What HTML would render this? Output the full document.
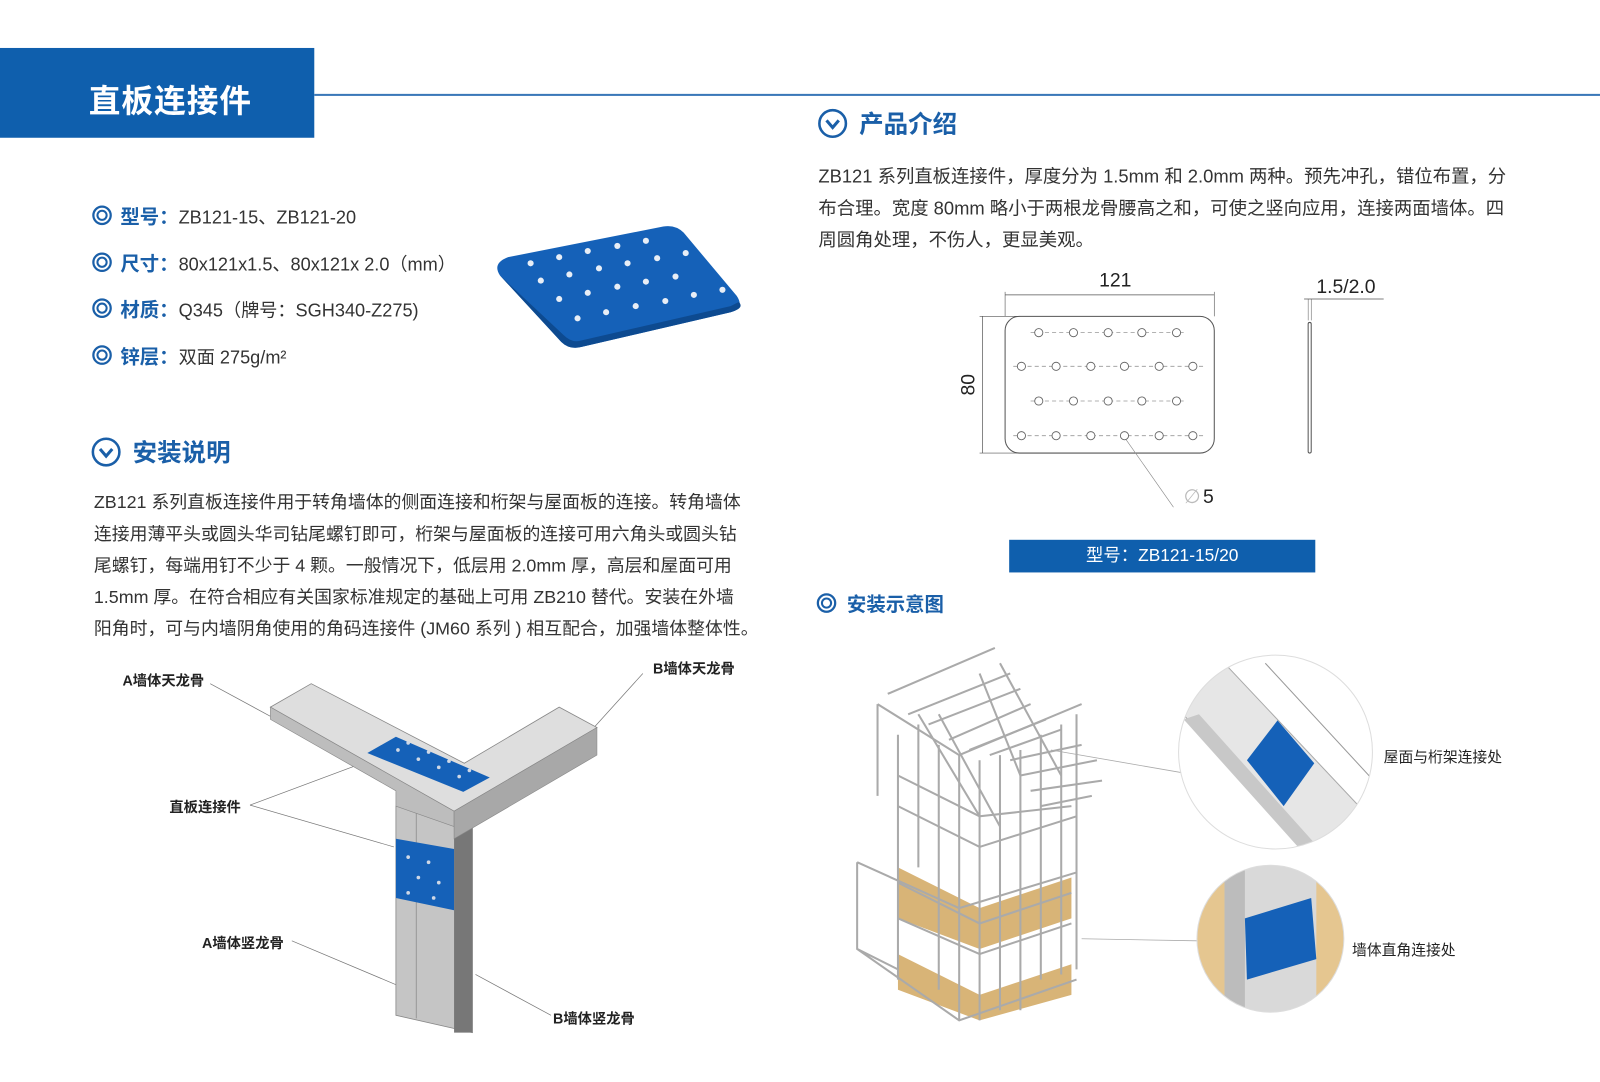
<!DOCTYPE html>
<html><head><meta charset="utf-8"><style>
html,body{margin:0;padding:0;background:#fff;}
body{width:1600px;height:1082px;position:relative;overflow:hidden;font-family:"Liberation Sans","Noto Sans CJK SC",sans-serif;color:#333;}
#w{position:absolute;left:0;top:0;width:1568px;height:1060px;transform:scale(1.0204);transform-origin:0 0;}
.a{position:absolute;white-space:nowrap;}
.p{line-height:31px;color:#333;}
.lab{color:#1a5fa8;font-weight:bold;font-size:19px;}
.val{font-size:17.8px;color:#333;}
.h{color:#1a5fa8;font-weight:bold;font-size:24px;}
.sm{font-size:14px;color:#222;font-weight:bold;}
</style></head><body><div id="w">
<div class="a" style="left:0;top:47px;width:308px;height:88px;background:#0f5fad;"></div>
<div class="a" style="left:87px;top:74px;color:#fff;font-size:31px;font-weight:bold;letter-spacing:1px;">直板连接件</div>
<div class="a" style="left:308px;top:92px;width:1260px;height:1.5px;background:#3a78b8;"></div>

<svg class="a" style="left:0;top:0" width="1568" height="1060">
 <defs>
  <g id="chk"><circle r="13" fill="none" stroke="#1a5fa8" stroke-width="2.5"/><path d="M-6,-3 L0,4 L6,-3" fill="none" stroke="#1a5fa8" stroke-width="3"/></g>
  <g id="ring"><circle r="8.5" fill="none" stroke="#1a5fa8" stroke-width="2.2"/><circle r="4.5" fill="none" stroke="#1a5fa8" stroke-width="2"/></g>
 </defs>
 <use href="#chk" x="816" y="121"/>
 <use href="#chk" x="104" y="443"/>
 <use href="#ring" x="100" y="211"/>
 <use href="#ring" x="100" y="257"/>
 <use href="#ring" x="100" y="302"/>
 <use href="#ring" x="100" y="348"/>
 <use href="#ring" x="810" y="591"/>
 <path d="M498,252 L650,222 Q662,220 670,228 L722,290 Q730,302 716,306 L570,340 Q558,343 550,335 L490,270 Q482,258 498,252Z" fill="#1561b8"/>
 <path d="M490,270 L550,335 Q558,343 570,340 L716,306 Q730,302 724,296 L716,300 L568,334 Q560,336 552,328 Z" fill="#0d4a90"/>
 <g fill="#e8eef6">
  <circle cx="520" cy="258" r="3"/><circle cx="548" cy="252" r="3"/><circle cx="576" cy="246" r="3"/><circle cx="605" cy="241" r="3"/><circle cx="633" cy="236" r="3"/>
  <circle cx="530" cy="275" r="3"/><circle cx="558" cy="269" r="3"/><circle cx="587" cy="263" r="3"/><circle cx="615" cy="258" r="3"/><circle cx="644" cy="253" r="3"/><circle cx="672" cy="248" r="3"/>
  <circle cx="548" cy="293" r="3"/><circle cx="576" cy="287" r="3"/><circle cx="605" cy="281" r="3"/><circle cx="633" cy="276" r="3"/><circle cx="662" cy="271" r="3"/>
  <circle cx="566" cy="312" r="3"/><circle cx="594" cy="306" r="3"/><circle cx="623" cy="300" r="3"/><circle cx="652" cy="295" r="3"/><circle cx="680" cy="289" r="3"/><circle cx="708" cy="284" r="3"/>
 </g>
 <g stroke="#555" fill="none" stroke-width="1">
  <rect x="985" y="310" width="205" height="134" rx="14"/>
  <line x1="985" y1="286" x2="985" y2="310" stroke-width="0.6"/><line x1="1190" y1="286" x2="1190" y2="310" stroke-width="0.6"/>
  <line x1="985" y1="289" x2="1190" y2="289" stroke-width="0.7"/>
  <line x1="960" y1="310" x2="1000" y2="310" stroke-width="0.6"/><line x1="960" y1="444" x2="1000" y2="444" stroke-width="0.6"/>
  <line x1="963" y1="310" x2="963" y2="444" stroke-width="0.7"/>
  <rect x="1282" y="316" width="3" height="128" rx="1.5"/>
  <line x1="1278" y1="293" x2="1356" y2="293" stroke-width="0.7"/>
  <line x1="1282" y1="293" x2="1282" y2="314" stroke-width="0.5"/><line x1="1285" y1="293" x2="1285" y2="314" stroke-width="0.5"/>
  <line x1="1103" y1="430" x2="1150" y2="497" stroke-width="0.6" stroke="#888"/>
 </g>
 <g stroke="#999" stroke-dasharray="4,3" stroke-width="0.8">
  <line x1="1010" y1="326" x2="1160" y2="326"/><line x1="993" y1="359" x2="1180" y2="359"/><line x1="1010" y1="393" x2="1160" y2="393"/><line x1="993" y1="427" x2="1180" y2="427"/>
 </g>
 <g fill="#fff" stroke="#666" stroke-width="0.9">
  <circle cx="1018" cy="326" r="4"/><circle cx="1052" cy="326" r="4"/><circle cx="1086" cy="326" r="4"/><circle cx="1119" cy="326" r="4"/><circle cx="1153" cy="326" r="4"/>
  <circle cx="1001" cy="359" r="4"/><circle cx="1035" cy="359" r="4"/><circle cx="1069" cy="359" r="4"/><circle cx="1102" cy="359" r="4"/><circle cx="1136" cy="359" r="4"/><circle cx="1169" cy="359" r="4"/>
  <circle cx="1018" cy="393" r="4"/><circle cx="1052" cy="393" r="4"/><circle cx="1086" cy="393" r="4"/><circle cx="1119" cy="393" r="4"/><circle cx="1153" cy="393" r="4"/>
  <circle cx="1001" cy="427" r="4"/><circle cx="1035" cy="427" r="4"/><circle cx="1069" cy="427" r="4"/><circle cx="1102" cy="427" r="4"/><circle cx="1136" cy="427" r="4"/><circle cx="1169" cy="427" r="4"/>
 </g>
 <text x="1093" y="281" font-size="19" text-anchor="middle" fill="#222" font-family="Liberation Sans">121</text>
 <text x="1290" y="287" font-size="19" fill="#222" font-family="Liberation Sans">1.5/2.0</text>
 <text x="955" y="377" font-size="19" fill="#222" font-family="Liberation Sans" transform="rotate(-90 955 377)" text-anchor="middle">80</text>
 <text x="1160" y="493" font-size="19" fill="#bbb" font-family="Liberation Sans">∅</text>
 <text x="1179" y="493" font-size="19" fill="#222" font-family="Liberation Sans">5</text>

 <g stroke="#777" stroke-width="0.7" fill="none">
  <line x1="206" y1="670" x2="265" y2="702"/><line x1="630" y1="660" x2="583" y2="712"/>
  <line x1="245" y1="789" x2="363" y2="745"/><line x1="245" y1="789" x2="386" y2="830"/>
  <line x1="286" y1="922" x2="388" y2="965"/><line x1="540" y1="995" x2="466" y2="955"/>
 </g>
 <path d="M388,790 L463,800 L463,1012 L388,995Z" fill="#c5c5c5" stroke="#888" stroke-width="0.8"/>
 <path d="M408,793 L408,998" stroke="#999"/>
 <path d="M445,810 L463,800 L463,1012 L445,1012Z" fill="#777"/>
 <path d="M265,693 L305,670 L455,748 L548,693 L585,713 L445,795 Z" fill="#dedede" stroke="#888" stroke-width="0.8"/>
 <path d="M265,693 L265,705 L388,775 L388,790 L445,810 L445,795 Z" fill="#bdbdbd" stroke="#888" stroke-width="0.6"/>
 <path d="M445,795 L585,713 L585,740 L445,822 Z" fill="#a8a8a8" stroke="#888" stroke-width="0.6"/>
 <path d="M360,738 L388,722 L480,762 L454,776Z" fill="#1561b8"/>
 <path d="M388,822 L445,832 L445,892 L388,880Z" fill="#1561b8"/>
 <g fill="#cfd8e6"><circle cx="390" cy="735" r="1.8"/><circle cx="410" cy="744" r="1.8"/><circle cx="430" cy="752" r="1.8"/><circle cx="450" cy="761" r="1.8"/><circle cx="400" cy="728" r="1.8"/><circle cx="420" cy="737" r="1.8"/><circle cx="440" cy="746" r="1.8"/><circle cx="460" cy="755" r="1.8"/><circle cx="400" cy="840" r="1.8"/><circle cx="420" cy="845" r="1.8"/><circle cx="410" cy="860" r="1.8"/><circle cx="430" cy="865" r="1.8"/><circle cx="400" cy="875" r="1.8"/><circle cx="425" cy="880" r="1.8"/></g>

 <path d="M880,850 L960,890 L1050,860 L1050,900 L960,930 L880,900Z" fill="#d8b477"/>
 <path d="M880,935 L960,975 L1050,945 L1050,975 L960,1000 L880,970Z" fill="#d8b477"/>
 <g stroke="#aaa" stroke-width="2" fill="none">
  <path d="M860,690 L940,740 L1060,690"/><path d="M860,690 L860,780 M900,710 L900,850 M940,740 L940,1000 M980,740 L980,990 M1020,720 L1020,960 M1055,700 L1055,950"/>
  <path d="M880,720 L880,960 M920,730 L920,970 M960,745 L960,1000 M1000,735 L1000,990 M1040,710 L1040,955"/>
  <path d="M840,845 L940,890 L1055,855 M840,845 L840,930 L940,1000 L1055,960 M840,930 L880,950"/>
  <path d="M880,900 L960,935 L1050,905 M880,865 L960,905 L1050,875"/>
  <path d="M870,680 L975,635 M890,700 L990,660 M910,710 L1000,675 M930,725 L1010,690 M950,735 L1025,705 M970,740 L1040,715 M990,745 L1060,730 M1000,760 L1075,745 M1010,775 L1080,765 M1020,790 L1070,780"/>
  <path d="M900,700 L960,800 L1050,790 M920,700 L980,810 M960,660 L1000,760 M980,650 L1040,760"/>
  <path d="M880,790 L960,830 L1055,800 M880,760 L960,800"/>
 </g>
 <g stroke="#aaa" stroke-width="0.8"><line x1="1030" y1="735" x2="1157" y2="757"/><line x1="1060" y1="920" x2="1173" y2="922"/></g>
 <clipPath id="c1"><circle cx="1250" cy="737" r="95"/></clipPath>
 <clipPath id="c2"><circle cx="1245" cy="920" r="72"/></clipPath>
 <g clip-path="url(#c1)">
  <rect x="1150" y="640" width="200" height="200" fill="#fff"/>
  <path d="M1150,690 L1200,650 L1360,820 L1300,850Z" fill="#e6e6e6" stroke="#aaa"/>
  <path d="M1175,700 L1305,845 L1290,850 L1160,705Z" fill="#c8c8c8"/>
  <path d="M1240,650 L1360,780" stroke="#999"/>
  <path d="M1222,745 L1252,706 L1288,748 L1258,790Z" fill="#1561b8"/>
 </g>
 <circle cx="1250" cy="737" r="95" fill="none" stroke="#ddd"/>
 <g clip-path="url(#c2)">
  <rect x="1170" y="845" width="150" height="150" fill="#e5c690"/>
  <rect x="1200" y="845" width="90" height="150" fill="#d9d9d9"/>
  <rect x="1200" y="845" width="20" height="150" fill="#bcbcbc"/>
  <path d="M1220,900 L1285,880 L1290,940 L1222,960Z" fill="#1561b8"/>
 </g>
 <circle cx="1245" cy="920" r="72" fill="none" stroke="#ddd"/>
</svg>

<div class="a" style="left:842px;top:102px;"><span class="h">产品介绍</span></div>
<div class="a p" style="left:802px;top:158px;font-size:18px;">ZB121 系列直板连接件，厚度分为 1.5mm 和 2.0mm 两种。预先冲孔，错位布置，分<br>布合理。宽度 80mm 略小于两根龙骨腰高之和，可使之竖向应用，连接两面墙体。四<br>周圆角处理，不伤人，更显美观。</div>

<div class="a" style="left:118px;top:198px;"><span class="lab">型号：</span><span class="val">ZB121-15、ZB121-20</span></div>
<div class="a" style="left:118px;top:244px;"><span class="lab">尺寸：</span><span class="val">80x121x1.5、80x121x 2.0（mm）</span></div>
<div class="a" style="left:118px;top:289px;"><span class="lab">材质：</span><span class="val">Q345（牌号：SGH340-Z275)</span></div>
<div class="a" style="left:118px;top:335px;"><span class="lab">锌层：</span><span class="val">双面 275g/m²</span></div>

<div class="a" style="left:130px;top:424px;"><span class="h">安装说明</span></div>
<div class="a p" style="left:92px;top:477px;font-size:17.5px;">ZB121 系列直板连接件用于转角墙体的侧面连接和桁架与屋面板的连接。转角墙体<br>连接用薄平头或圆头华司钻尾螺钉即可，桁架与屋面板的连接可用六角头或圆头钻<br>尾螺钉，每端用钉不少于 4 颗。一般情况下，低层用 2.0mm 厚，高层和屋面可用<br>1.5mm 厚。在符合相应有关国家标准规定的基础上可用 ZB210 替代。安装在外墙<br>阳角时，可与内墙阴角使用的角码连接件 (JM60 系列 ) 相互配合，加强墙体整体性。</div>

<div class="a" style="left:989px;top:529px;width:300px;height:32px;background:#0f5fad;color:#fff;font-size:17px;line-height:32px;text-align:center;">型号：ZB121-15/20</div>
<div class="a lab" style="left:830px;top:578px;">安装示意图</div>

<div class="a sm" style="left:120px;top:657px;">A墙体天龙骨</div>
<div class="a sm" style="left:640px;top:645px;">B墙体天龙骨</div>
<div class="a sm" style="left:166px;top:781px;">直板连接件</div>
<div class="a sm" style="left:198px;top:914px;">A墙体竖龙骨</div>
<div class="a sm" style="left:542px;top:988px;">B墙体竖龙骨</div>
<div class="a" style="left:1356px;top:731px;font-size:14.5px;color:#222;">屋面与桁架连接处</div>
<div class="a" style="left:1325px;top:920px;font-size:14.5px;color:#222;">墙体直角连接处</div>
</div></body></html>
